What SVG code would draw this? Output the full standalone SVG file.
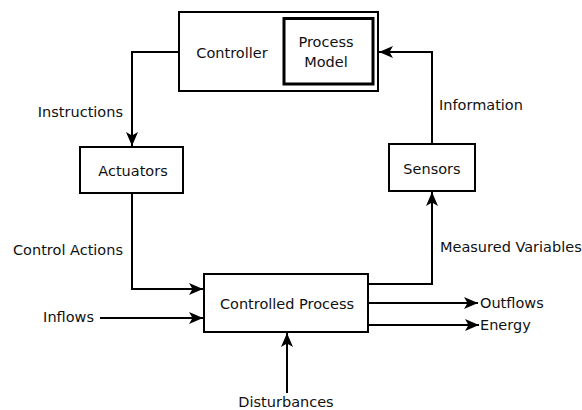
<svg xmlns="http://www.w3.org/2000/svg" width="582" height="410" viewBox="0 0 582 410">
  <style>
    .box { fill: #ffffff; stroke: #000000; stroke-width: 2; }
    .inner { fill: #ffffff; stroke: #000000; stroke-width: 3; }
    .edge { fill: none; stroke: #000000; stroke-width: 2; marker-end: url(#arrow); }
    text { font-family: "DejaVu Sans", Verdana, sans-serif; font-size: 14.5px; fill: #111111; }
    .mid { text-anchor: middle; }
    .end { text-anchor: end; }
  </style>
  <defs>
    <marker id="arrow" markerUnits="userSpaceOnUse" markerWidth="16" markerHeight="14" refX="14" refY="6" orient="auto">
      <path d="M0,0 L14,6 L0,12 L3.5,6 Z" fill="#000000"/>
    </marker>
  </defs>

  <rect width="582" height="410" fill="#ffffff"/>

  <g id="connectors">
    <path class="edge" d="M179,52 H132 V146"/>
    <path class="edge" d="M132,193 V289 H203"/>
    <path class="edge" d="M100,318 H203"/>
    <path class="edge" d="M368,284 H432 V192"/>
    <path class="edge" d="M432,144 V52 H379"/>
    <path class="edge" d="M368,303 H478"/>
    <path class="edge" d="M368,325 H479"/>
    <path class="edge" d="M287,393 V333"/>
  </g>

  <g id="controller">
    <rect class="box" x="179" y="12" width="199" height="79"/>
    <text class="mid" x="232" y="58">Controller</text>
  </g>
  <g id="process-model">
    <rect class="inner" x="284" y="18.5" width="89" height="65.5"/>
    <text class="mid" x="326" y="47">Process</text>
    <text class="mid" x="326" y="67">Model</text>
  </g>
  <g id="actuators">
    <rect class="box" x="80" y="147" width="103" height="46"/>
    <text class="mid" x="133" y="176">Actuators</text>
  </g>
  <g id="sensors">
    <rect class="box" x="389" y="144" width="86" height="47"/>
    <text class="mid" x="432" y="174">Sensors</text>
  </g>
  <g id="controlled-process">
    <rect class="box" x="204" y="274" width="164" height="58"/>
    <text class="mid" x="287" y="309">Controlled Process</text>
  </g>

  <g id="labels">
    <text class="end" x="123" y="117">Instructions</text>
    <text x="439" y="110">Information</text>
    <text x="440" y="252">Measured Variables</text>
    <text class="end" x="123" y="255">Control Actions</text>
    <text class="end" x="94" y="322">Inflows</text>
    <text x="480" y="308">Outflows</text>
    <text x="480" y="330">Energy</text>
    <text class="mid" x="286" y="407">Disturbances</text>
  </g>
</svg>
